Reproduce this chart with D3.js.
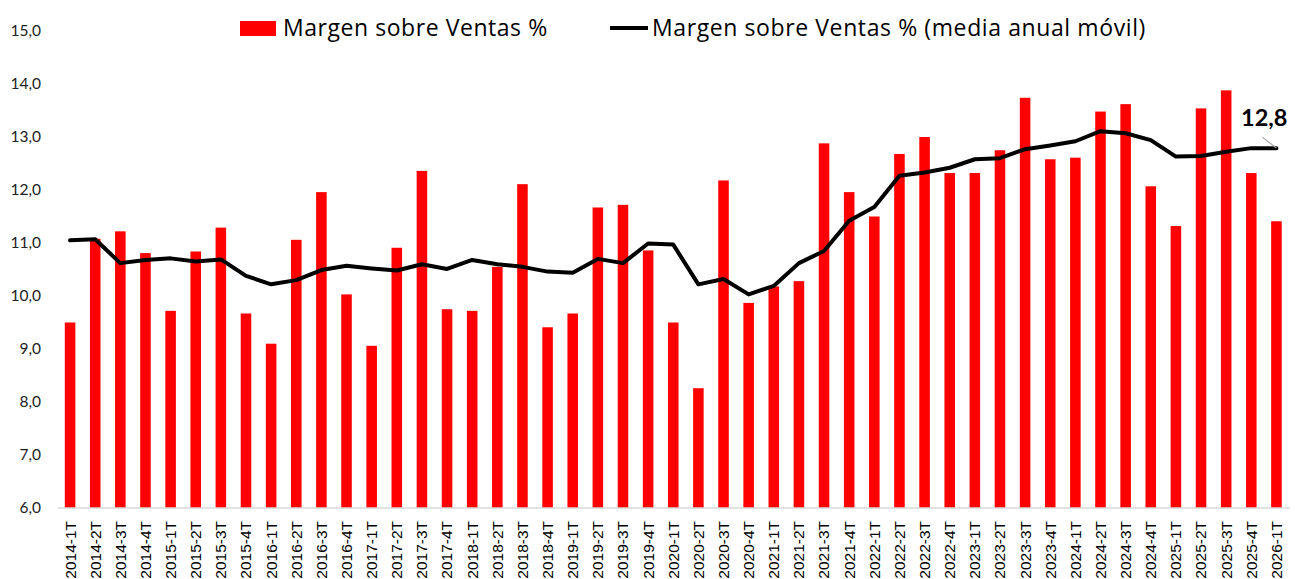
<!DOCTYPE html>
<html lang="es">
<head>
<meta charset="utf-8"/>
<script src="https://d3js.org/d3.v7.min.js"></script>
<style>
  body { margin: 0; background: #fff; }
  svg text { font-family: Lato, "Open Sans", sans-serif; }
</style>
</head>
<body>
<svg id="chart"></svg>
<script>
  const quarters = [
    "2014-1T","2014-2T","2014-3T","2014-4T","2015-1T","2015-2T","2015-3T","2015-4T",
    "2016-1T","2016-2T","2016-3T","2016-4T","2017-1T","2017-2T","2017-3T","2017-4T",
    "2018-1T","2018-2T","2018-3T","2018-4T","2019-1T","2019-2T","2019-3T","2019-4T",
    "2020-1T","2020-2T","2020-3T","2020-4T","2021-1T","2021-2T","2021-3T","2021-4T",
    "2022-1T","2022-2T","2022-3T","2022-4T","2023-1T","2023-2T","2023-3T","2023-4T",
    "2024-1T","2024-2T","2024-3T","2024-4T","2025-1T","2025-2T","2025-3T","2025-4T",
    "2026-1T"
  ];
  // margen trimestral
  const margin = [
    9.50, 11.08, 11.22, 10.81, 9.72, 10.84, 11.29, 9.67,
    9.10, 11.06, 11.96, 10.03, 9.06, 10.91, 12.36, 9.75,
    9.72, 10.55, 12.11, 9.41, 9.67, 11.67, 11.72, 10.86,
    9.50, 8.26, 12.18, 9.87, 10.18, 10.28, 12.88, 11.96,
    11.50, 12.68, 13.00, 12.32, 12.32, 12.75, 13.74, 12.58,
    12.61, 13.48, 13.62, 12.07, 11.32, 13.54, 13.88, 12.32,
    11.41
  ];
  // media anual móvil
  const rolling = [
    11.05, 11.07, 10.62, 10.68, 10.71, 10.65, 10.69, 10.38,
    10.22, 10.30, 10.49, 10.57, 10.52, 10.48, 10.60, 10.51,
    10.68, 10.60, 10.55, 10.46, 10.44, 10.70, 10.62, 10.99,
    10.97, 10.22, 10.32, 10.03, 10.19, 10.62, 10.85, 11.42,
    11.68, 12.27, 12.33, 12.42, 12.58, 12.60, 12.77, 12.84,
    12.92, 13.11, 13.07, 12.94, 12.63, 12.64, 12.72, 12.79,
    12.79
  ];
  const yTicks = [6, 7, 8, 9, 10, 11, 12, 13, 14, 15];
  const lastLabel = "12,8";

  const W = 1295, H = 579;
  const svg = d3.select("#chart").attr("width", W).attr("height", H);

  const x = d3.scaleBand().domain(quarters).range([57.5, 1289]).paddingInner(0.58).paddingOuter(0.29);
  const y = d3.scaleLinear().domain([6, 15]).range([508, 31]);

  const fmt = d => d.toFixed(1).replace(".", ",");

  // eje Y (solo etiquetas)
  svg.append("g")
    .selectAll("text")
    .data(yTicks)
    .join("text")
      .attr("x", 41)
      .attr("y", d => y(d))
      .attr("dy", "0.35em")
      .attr("text-anchor", "end")
      .style("font-size", "15.5px")
      .style("fill", "#222")
      .text(fmt);

  // barras
  svg.append("g")
    .selectAll("rect")
    .data(margin)
    .join("rect")
      .attr("x", (d, i) => x(quarters[i]))
      .attr("width", x.bandwidth())
      .attr("y", d => y(d))
      .attr("height", d => y(6) - y(d))
      .attr("fill", "#ff0000");

  // eje X
  const xAxis = svg.append("g")
    .attr("transform", "translate(0,508)")
    .call(d3.axisBottom(x).tickSize(0).tickPadding(0));
  xAxis.select(".domain").attr("stroke", "#d9d9d9").attr("stroke-width", 1.5)
    .attr("d", "M57.5,0H1290");
  xAxis.selectAll(".tick text")
    .attr("transform", "rotate(-90)")
    .attr("text-anchor", "end")
    .attr("x", -13)
    .attr("y", 0)
    .attr("dy", "0.35em")
    .style("font-family", "'Liberation Sans', Arial, sans-serif")
    .style("font-size", "15.5px")
    .style("fill", "#000");

  // línea media móvil
  const line = d3.line()
    .x((d, i) => x(quarters[i]) + x.bandwidth() / 2)
    .y(d => y(d));
  svg.append("path")
    .datum(rolling)
    .attr("d", line)
    .attr("fill", "none")
    .attr("stroke", "#000")
    .attr("stroke-width", 4)
    .attr("stroke-linejoin", "round")
    .attr("stroke-linecap", "round");

  // etiqueta último valor
  const lx = x(quarters[quarters.length - 1]) + x.bandwidth() / 2;
  const ly = y(rolling[rolling.length - 1]);
  svg.append("line")
    .attr("x1", lx - 14).attr("y1", ly - 11)
    .attr("x2", lx).attr("y2", ly)
    .attr("stroke", "#a6a6a6").attr("stroke-width", 1.2);
  svg.append("text")
    .attr("x", lx + 11)
    .attr("y", ly - 22)
    .attr("text-anchor", "end")
    .style("font-size", "23.5px")
    .style("font-weight", "bold")
    .style("fill", "#000")
    .text(lastLabel);

  // leyenda
  const leg = svg.append("g");
  leg.append("rect").attr("x", 240).attr("y", 21).attr("width", 36).attr("height", 15).attr("fill", "#ff0000");
  leg.append("text").attr("x", 283).attr("y", 28).attr("dy", "0.35em")
    .style("font-family", "'Open Sans', sans-serif")
    .style("letter-spacing", "0.55px")
    .style("font-size", "23px").style("fill", "#000").text("Margen sobre Ventas %");
  leg.append("line").attr("x1", 610).attr("x2", 648).attr("y1", 28).attr("y2", 28)
    .attr("stroke", "#000").attr("stroke-width", 4);
  leg.append("text").attr("x", 652).attr("y", 28).attr("dy", "0.35em")
    .style("font-family", "'Open Sans', sans-serif")
    .style("letter-spacing", "0.6px")
    .style("font-size", "23px").style("fill", "#000").text("Margen sobre Ventas % (media anual móvil)");
</script>
</body>
</html>
